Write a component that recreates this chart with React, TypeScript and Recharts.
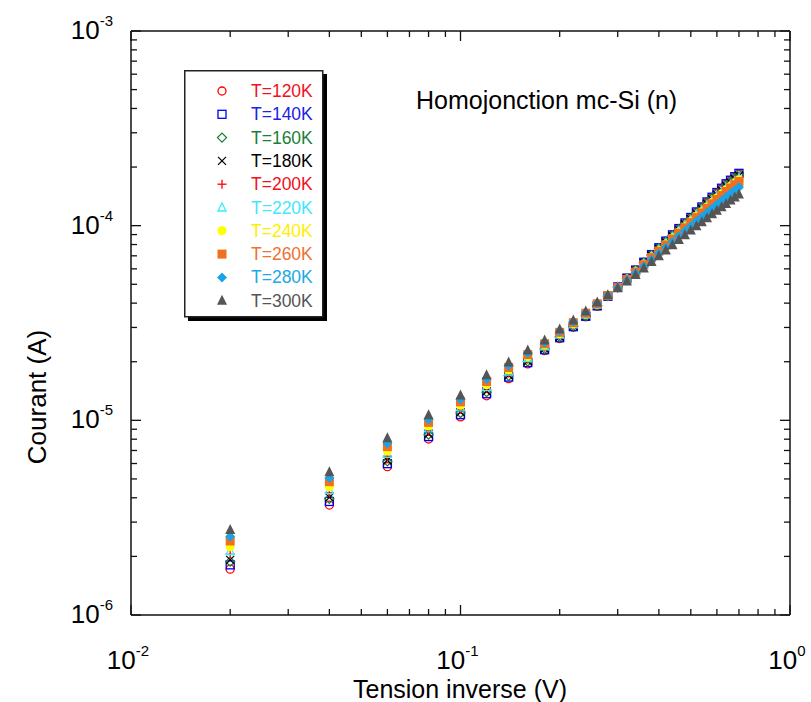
import React from 'react';
import { ScatterChart, Scatter, XAxis, YAxis, Legend, Customized } from 'recharts';

const FONT = '"Liberation Sans", Arial, Helvetica, sans-serif';

// Tension inverse (V)
const tensionValues = [0.02, 0.04, 0.06, 0.08, 0.10, 0.12, 0.14, 0.16, 0.18, 0.20, 0.22, 0.24, 0.26, 0.28, 0.30, 0.32, 0.34, 0.36, 0.38, 0.40, 0.42, 0.44, 0.46, 0.48, 0.50, 0.52, 0.54, 0.56, 0.58, 0.60, 0.62, 0.64, 0.66, 0.68, 0.70];

const temperatureLabels = ['T=120K', 'T=140K', 'T=160K', 'T=180K', 'T=200K', 'T=220K', 'T=240K', 'T=260K', 'T=280K', 'T=300K'];

// Courant (A)
const courant120K = [1.72e-6, 3.67e-6, 5.78e-6, 8.02e-6, 1.042e-5, 1.337e-5, 1.637e-5, 1.950e-5, 2.280e-5, 2.630e-5, 3.006e-5, 3.404e-5, 3.855e-5, 4.335e-5, 4.842e-5, 5.370e-5, 5.902e-5, 6.471e-5, 7.079e-5, 7.674e-5, 8.299e-5, 8.933e-5, 9.616e-5, 1.028e-4, 1.096e-4, 1.169e-4, 1.239e-4, 1.315e-4, 1.390e-4, 1.469e-4, 1.545e-4, 1.629e-4, 1.698e-4, 1.770e-4, 1.841e-4];
const courant140K = [1.81e-6, 3.83e-6, 5.99e-6, 8.25e-6, 1.069e-5, 1.370e-5, 1.668e-5, 1.980e-5, 2.306e-5, 2.657e-5, 3.029e-5, 3.424e-5, 3.871e-5, 4.340e-5, 4.845e-5, 5.378e-5, 5.915e-5, 6.489e-5, 7.102e-5, 7.702e-5, 8.333e-5, 8.973e-5, 9.663e-5, 1.033e-4, 1.102e-4, 1.176e-4, 1.247e-4, 1.324e-4, 1.400e-4, 1.480e-4, 1.557e-4, 1.642e-4, 1.712e-4, 1.785e-4, 1.857e-4];
const courant160K = [1.88e-6, 3.95e-6, 6.15e-6, 8.44e-6, 1.090e-5, 1.395e-5, 1.692e-5, 2.004e-5, 2.326e-5, 2.678e-5, 3.046e-5, 3.439e-5, 3.883e-5, 4.345e-5, 4.840e-5, 5.364e-5, 5.893e-5, 6.458e-5, 7.062e-5, 7.653e-5, 8.273e-5, 8.903e-5, 9.581e-5, 1.024e-4, 1.091e-4, 1.164e-4, 1.233e-4, 1.308e-4, 1.383e-4, 1.461e-4, 1.536e-4, 1.619e-4, 1.687e-4, 1.759e-4, 1.829e-4];
const courant180K = [1.92e-6, 4.02e-6, 6.24e-6, 8.54e-6, 1.102e-5, 1.410e-5, 1.706e-5, 2.017e-5, 2.338e-5, 2.690e-5, 3.056e-5, 3.448e-5, 3.889e-5, 4.347e-5, 4.835e-5, 5.352e-5, 5.874e-5, 6.431e-5, 7.027e-5, 7.610e-5, 8.222e-5, 8.842e-5, 9.510e-5, 1.016e-4, 1.082e-4, 1.153e-4, 1.221e-4, 1.295e-4, 1.368e-4, 1.444e-4, 1.518e-4, 1.599e-4, 1.666e-4, 1.736e-4, 1.805e-4];
const courant200K = [2.05e-6, 4.24e-6, 6.54e-6, 8.88e-6, 1.141e-5, 1.458e-5, 1.751e-5, 2.061e-5, 2.376e-5, 2.729e-5, 3.089e-5, 3.476e-5, 3.912e-5, 4.355e-5, 4.831e-5, 5.341e-5, 5.858e-5, 6.409e-5, 6.998e-5, 7.575e-5, 8.180e-5, 8.792e-5, 9.450e-5, 1.009e-4, 1.075e-4, 1.144e-4, 1.211e-4, 1.284e-4, 1.355e-4, 1.431e-4, 1.503e-4, 1.582e-4, 1.649e-4, 1.718e-4, 1.786e-4];
const courant220K = [2.13e-6, 4.38e-6, 6.73e-6, 9.09e-6, 1.165e-5, 1.487e-5, 1.779e-5, 2.088e-5, 2.399e-5, 2.753e-5, 3.109e-5, 3.493e-5, 3.926e-5, 4.360e-5, 4.826e-5, 5.327e-5, 5.835e-5, 6.378e-5, 6.958e-5, 7.525e-5, 8.120e-5, 8.721e-5, 9.368e-5, 9.997e-5, 1.064e-4, 1.132e-4, 1.198e-4, 1.268e-4, 1.338e-4, 1.411e-4, 1.481e-4, 1.559e-4, 1.624e-4, 1.691e-4, 1.758e-4];
const courant240K = [2.24e-6, 4.56e-6, 6.96e-6, 9.35e-6, 1.196e-5, 1.523e-5, 1.813e-5, 2.121e-5, 2.428e-5, 2.784e-5, 3.135e-5, 3.515e-5, 3.943e-5, 4.366e-5, 4.819e-5, 5.308e-5, 5.807e-5, 6.338e-5, 6.906e-5, 7.462e-5, 8.043e-5, 8.631e-5, 9.261e-5, 9.876e-5, 1.050e-4, 1.116e-4, 1.180e-4, 1.248e-4, 1.316e-4, 1.387e-4, 1.454e-4, 1.529e-4, 1.592e-4, 1.658e-4, 1.722e-4];
const courant260K = [2.40e-6, 4.84e-6, 7.33e-6, 9.76e-6, 1.244e-5, 1.582e-5, 1.868e-5, 2.175e-5, 2.474e-5, 2.832e-5, 3.175e-5, 3.550e-5, 3.970e-5, 4.375e-5, 4.812e-5, 5.290e-5, 5.778e-5, 6.297e-5, 6.854e-5, 7.398e-5, 7.967e-5, 8.540e-5, 9.155e-5, 9.755e-5, 1.037e-4, 1.100e-4, 1.162e-4, 1.228e-4, 1.294e-4, 1.362e-4, 1.427e-4, 1.498e-4, 1.561e-4, 1.624e-4, 1.687e-4];
const courant280K = [2.53e-6, 5.06e-6, 7.63e-6, 1.010e-5, 1.283e-5, 1.629e-5, 1.913e-5, 2.219e-5, 2.512e-5, 2.871e-5, 3.208e-5, 3.578e-5, 3.993e-5, 4.383e-5, 4.790e-5, 5.232e-5, 5.690e-5, 6.173e-5, 6.692e-5, 7.200e-5, 7.728e-5, 8.258e-5, 8.823e-5, 9.378e-5, 9.942e-5, 1.051e-4, 1.107e-4, 1.165e-4, 1.225e-4, 1.285e-4, 1.342e-4, 1.405e-4, 1.462e-4, 1.519e-4, 1.576e-4];
const courant300K = [2.73e-6, 5.41e-6, 8.09e-6, 1.062e-5, 1.343e-5, 1.702e-5, 1.982e-5, 2.286e-5, 2.570e-5, 2.931e-5, 3.258e-5, 3.622e-5, 4.027e-5, 4.395e-5, 4.764e-5, 5.164e-5, 5.585e-5, 6.026e-5, 6.501e-5, 6.966e-5, 7.447e-5, 7.925e-5, 8.433e-5, 8.933e-5, 9.441e-5, 9.931e-5, 1.042e-4, 1.091e-4, 1.143e-4, 1.194e-4, 1.242e-4, 1.294e-4, 1.346e-4, 1.396e-4, 1.445e-4];

const xDecades = [-2, -1];
const yDecades = [-6, -5, -4];
const xTicks = [...xDecades.flatMap((e) => [1, 2, 3, 4, 5, 6, 7, 8, 9].map((k) => k * Math.pow(10, e))), 1];
const yTicks = [...yDecades.flatMap((e) => [1, 2, 3, 4, 5, 6, 7, 8, 9].map((k) => k * Math.pow(10, e))), 1e-3];

const seriesValues = [courant120K, courant140K, courant160K, courant180K, courant200K, courant220K, courant240K, courant260K, courant280K, courant300K];
const seriesColors = ['#ff0000', '#0000f0', '#1a7f37', '#000000', '#ff0000', '#33eeff', '#ffff00', '#f07020', '#1aa3e8', '#555555'];
const legendTextColors = ['#f01020', '#2020e8', '#1a7f37', '#000000', '#f01020', '#40e8ff', '#ffee00', '#f07030', '#20a8e8', '#555555'];
const seriesKinds = ['circleOpen', 'squareOpen', 'diamondOpen', 'x', 'plus', 'triangleOpen', 'circle', 'square', 'diamond', 'triangle'];

const series = temperatureLabels.map((name, i) => ({
  name,
  color: seriesColors[i],
  textColor: legendTextColors[i],
  kind: seriesKinds[i],
  data: tensionValues.map((x, j) => ({ x, y: seriesValues[i][j] })),
}));

function Marker({ cx, cy, kind, color }: any) {
  if (cx == null || cy == null) return null;
  const sw = 1.3;
  switch (kind) {
    case 'circleOpen':
      return <circle cx={cx} cy={cy} r={4} fill="none" stroke={color} strokeWidth={sw} />;
    case 'squareOpen':
      return <rect x={cx - 4} y={cy - 4} width={8} height={8} fill="none" stroke={color} strokeWidth={sw} />;
    case 'diamondOpen':
      return <polygon points={`${cx},${cy - 4.5} ${cx + 4.5},${cy} ${cx},${cy + 4.5} ${cx - 4.5},${cy}`} fill="none" stroke={color} strokeWidth={sw} />;
    case 'x':
      return (
        <g stroke={color} strokeWidth={sw}>
          <line x1={cx - 4} y1={cy - 4} x2={cx + 4} y2={cy + 4} />
          <line x1={cx - 4} y1={cy + 4} x2={cx + 4} y2={cy - 4} />
        </g>
      );
    case 'plus':
      return (
        <g stroke={color} strokeWidth={sw}>
          <line x1={cx - 4.5} y1={cy} x2={cx + 4.5} y2={cy} />
          <line x1={cx} y1={cy - 4.5} x2={cx} y2={cy + 4.5} />
        </g>
      );
    case 'triangleOpen':
      return <polygon points={`${cx},${cy - 4.5} ${cx + 4},${cy + 3.5} ${cx - 4},${cy + 3.5}`} fill="none" stroke={color} strokeWidth={sw} />;
    case 'circle':
      return <circle cx={cx} cy={cy} r={4.5} fill={color} />;
    case 'square':
      return <rect x={cx - 4.5} y={cy - 4.5} width={9} height={9} fill={color} />;
    case 'diamond':
      return <polygon points={`${cx},${cy - 5} ${cx + 5},${cy} ${cx},${cy + 5} ${cx - 5},${cy}`} fill={color} />;
    case 'triangle':
      return <polygon points={`${cx},${cy - 6} ${cx + 5},${cy + 4} ${cx - 5},${cy + 4}`} fill={color} />;
    default:
      return null;
  }
}

const decadeOf = (v: number) => Math.round(Math.log10(v));
const isMajor = (v: number) => Math.abs(Math.log10(v) - decadeOf(v)) < 1e-6;

const TICK_COLOR = '#111';

function BottomTick(props: any) {
  const { x, y, payload } = props;
  const v = payload.value;
  const major = isMajor(v);
  return (
    <g>
      <line x1={x} x2={x} y1={y} y2={y - (major ? 10 : 6)} stroke={TICK_COLOR} strokeWidth={1.3} />
      {major && (
        <text x={x - 3} y={y + 54} textAnchor="middle" fontFamily={FONT} fontSize={26} fill="#000">
          <tspan>10</tspan>
          <tspan dy={-13} fontSize={15}>{`${decadeOf(v)}`}</tspan>
        </text>
      )}
    </g>
  );
}

function TopTick(props: any) {
  const { x, y, payload } = props;
  const major = isMajor(payload.value);
  return <line x1={x} x2={x} y1={y} y2={y + (major ? 10 : 6)} stroke={TICK_COLOR} strokeWidth={1.3} />;
}

function LeftTick(props: any) {
  const { x, y, payload } = props;
  const v = payload.value;
  const major = isMajor(v);
  return (
    <g>
      <line x1={x} x2={x + (major ? 10 : 6)} y1={y} y2={y} stroke={TICK_COLOR} strokeWidth={1.3} />
      {major && (
        <text x={x - 18} y={y + 8} textAnchor="end" fontFamily={FONT} fontSize={26} fill="#000">
          <tspan>10</tspan>
          <tspan dy={-13} fontSize={15}>{`${decadeOf(v)}`}</tspan>
        </text>
      )}
    </g>
  );
}

function RightTick(props: any) {
  const { x, y, payload } = props;
  const major = isMajor(payload.value);
  return <line x1={x} x2={x - (major ? 10 : 6)} y1={y} y2={y} stroke={TICK_COLOR} strokeWidth={1.3} />;
}

function LegendBox() {
  return (
    <svg width={147} height={255} style={{ display: 'block', overflow: 'visible' }}>
      <rect x={4} y={4} width={139} height={247} fill="#000" />
      <rect x={0.75} y={0.75} width={138} height={246} fill="#fff" stroke="#222" strokeWidth={1.5} />
      {series.map((s, i) => {
        const cy = 21 + i * 23.3;
        return (
          <g key={s.name}>
            <Marker cx={38} cy={cy} kind={s.kind} color={s.color} />
            <text x={67} y={cy + 6} fill={s.textColor} fontFamily={FONT} fontSize={17.5}>
              {s.name}
            </text>
          </g>
        );
      })}
    </svg>
  );
}

function Annotations() {
  return (
    <g fontFamily={FONT} fill="#000">
      <text x={416} y={109} fontSize={25}>Homojonction mc-Si (n)</text>
      <text x={460} y={698} fontSize={25} textAnchor="middle">Tension inverse (V)</text>
      <text x={46} y={397} fontSize={26} textAnchor="middle" transform="rotate(-90 46 397)">Courant (A)</text>
    </g>
  );
}

const axisLine = { stroke: '#111', strokeWidth: 1.5 };

export default function App() {
  return (
    <div style={{ position: 'absolute', left: 0, top: 0, width: 811, height: 702, background: '#fff' }}>
      <ScatterChart width={811} height={702} margin={{ top: 30, right: 20, bottom: 0, left: 0 }}>
        <XAxis
          xAxisId="b"
          dataKey="x"
          type="number"
          scale="log"
          domain={[0.01, 1]}
          allowDataOverflow
          ticks={xTicks}
          interval={0}
          orientation="bottom"
          height={87}
          tickSize={0}
          tickMargin={0}
          axisLine={axisLine}
          tickLine={false}
          tick={(p: any) => <BottomTick {...p} />}
        />
        <XAxis
          xAxisId="t"
          dataKey="x"
          type="number"
          scale="log"
          domain={[0.01, 1]}
          allowDataOverflow
          ticks={xTicks}
          interval={0}
          orientation="top"
          height={1}
          tickSize={0}
          tickMargin={0}
          axisLine={axisLine}
          tickLine={false}
          tick={(p: any) => <TopTick {...p} />}
        />
        <YAxis
          yAxisId="l"
          dataKey="y"
          type="number"
          scale="log"
          domain={[1e-6, 1e-3]}
          allowDataOverflow
          ticks={yTicks}
          interval={0}
          orientation="left"
          width={131}
          tickSize={0}
          tickMargin={0}
          axisLine={axisLine}
          tickLine={false}
          tick={(p: any) => <LeftTick {...p} />}
        />
        <YAxis
          yAxisId="r"
          dataKey="y"
          type="number"
          scale="log"
          domain={[1e-6, 1e-3]}
          allowDataOverflow
          ticks={yTicks}
          interval={0}
          orientation="right"
          width={1}
          tickSize={0}
          tickMargin={0}
          axisLine={axisLine}
          tickLine={false}
          tick={(p: any) => <RightTick {...p} />}
        />
        {series.map((s) => (
          <Scatter
            key={s.name}
            name={s.name}
            data={s.data}
            xAxisId="b"
            yAxisId="l"
            isAnimationActive={false}
            shape={(p: any) => <Marker cx={p.cx} cy={p.cy} kind={s.kind} color={s.color} />}
          />
        ))}
        <Legend
          layout="vertical"
          align="center"
          verticalAlign="middle"
          wrapperStyle={{ left: 184, top: 70, width: 147, height: 255 }}
          content={() => <LegendBox />}
        />
        <Customized component={() => <Annotations />} />
      </ScatterChart>
    </div>
  );
}
